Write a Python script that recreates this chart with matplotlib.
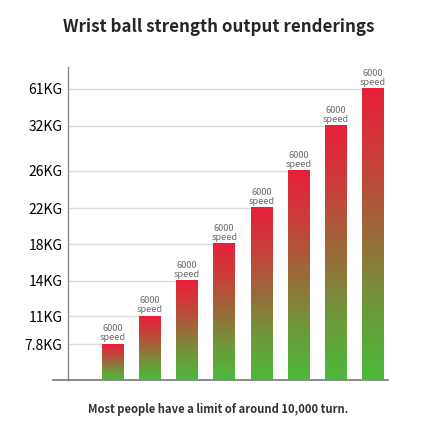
import numpy as np
import matplotlib
matplotlib.use("Agg")
import matplotlib.pyplot as plt

# chart data
weights = [7.8, 11, 14, 18, 22, 26, 32, 61]
tick_labels = ["7.8KG", "11KG", "14KG", "18KG", "22KG", "26KG", "32KG", "61KG"]
bar_text = ["6000\nspeed"] * 8

# the value axis is not linear in the original: map values to axis levels
scale_values = [0, 7.8, 11, 14, 18, 22, 26, 32, 61, 90]
scale_levels = [0, 35.7, 64, 99.3, 136, 172, 209, 254.3, 291, 330]


def forward(v):
    return np.interp(v, scale_values, scale_levels)


def inverse(l):
    return np.interp(l, scale_levels, scale_values)


plt.rcParams['font.family'] = ['Noto Sans CJK SC', 'DejaVu Sans']

fig = plt.figure(figsize=(4.37, 4.44), dpi=100)
ax = fig.add_axes([53 / 437, 1 - 380 / 444, 335 / 437, 313 / 444])
ax.set_yscale('function', functions=(forward, inverse))
ax.tick_params(axis='y', length=0, pad=4)

x = np.arange(len(weights))
width = 0.58
bars = ax.bar(x, weights, width=width, color='none', edgecolor='none', zorder=3)

# red (top) to green (bottom) gradient inside every bar
cmap = matplotlib.colors.LinearSegmentedColormap.from_list(
    'rg', ['#4cb93c', '#6e983a', '#9a6a3a', '#c8403a', '#e8203b'])
grad = np.linspace(0, 1, 256).reshape(-1, 1)
lin = ax.transLimits + ax.transAxes
for b in bars:
    x0 = b.get_x()
    h = b.get_height()
    ax.imshow(grad, cmap=cmap, origin='lower', aspect='auto',
              extent=(x0, x0 + b.get_width(), 0, float(forward(h))),
              transform=lin, zorder=3, interpolation='bilinear')

x_axis = -1.2
ax.set_xlim(-1.6, 7.4)
ax.set_ylim(0, float(inverse(313)))

# gridlines run from the axis up to the matching bar
for i, w in enumerate(weights):
    ax.hlines(w, x_axis, i + width / 2, color='#dcdcdc', lw=1.0, zorder=1)

for i, (w, t) in enumerate(zip(weights, bar_text)):
    ax.annotate(t, (i, w), xytext=(0, 1.5), textcoords='offset points',
                ha='center', va='bottom', fontsize=6.6, color='#6a6a6a',
                linespacing=1.0)

ax.set_xticks([])
ax.set_yticks(weights, tick_labels, fontsize=7.6, fontweight='heavy', color='#262626')

for s in ['top', 'right']:
    ax.spines[s].set_visible(False)
ax.spines['left'].set_position(('data', x_axis))
ax.spines['left'].set_color('#8a8a8a')
ax.spines['left'].set_linewidth(1.0)
ax.spines['bottom'].set_color('#777777')
ax.spines['bottom'].set_linewidth(1.2)

fig.text(0.5, 1 - 27 / 444, "Wrist ball strength output renderings",
         ha='center', va='center', fontsize=12.2, fontweight='heavy', color='#262626')
fig.text(0.5, 1 - 409 / 444, "Most people have a limit of around 10,000 turn.",
         ha='center', va='center', fontsize=8.1, fontweight='heavy', color='#333333')

fig.savefig('out.png', dpi=100)
